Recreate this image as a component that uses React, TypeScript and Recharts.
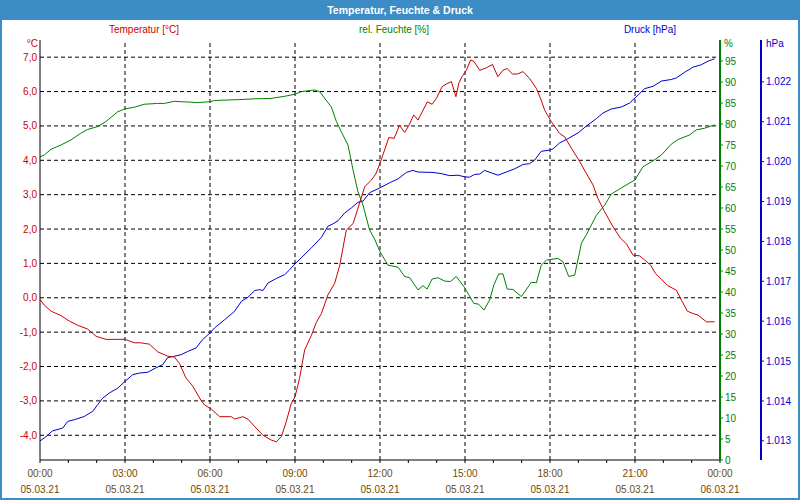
import React from 'react';
import { ComposedChart, Line, XAxis, YAxis, ReferenceLine } from 'recharts';

const FONT = '"Liberation Sans", Arial, sans-serif';

// x axis (hours since 05.03.21 00:00)
const tickHours = [0, 1, 2, 3, 4, 5, 6, 7, 8, 9, 10, 11, 12, 13, 14, 15, 16, 17, 18, 19, 20, 21, 22, 23, 24];
const labelHours = [0, 3, 6, 9, 12, 15, 18, 21, 24];
const labelTimes = ['00:00', '03:00', '06:00', '09:00', '12:00', '15:00', '18:00', '21:00', '00:00'];
const labelDates = ['05.03.21', '05.03.21', '05.03.21', '05.03.21', '05.03.21', '05.03.21', '05.03.21', '05.03.21', '06.03.21'];
const gridHours = [3, 6, 9, 12, 15, 18, 21];

// y axes
const tempTicks = [-4, -3, -2, -1, 0, 1, 2, 3, 4, 5, 6, 7];
const humTicks = [0, 5, 10, 15, 20, 25, 30, 35, 40, 45, 50, 55, 60, 65, 70, 75, 80, 85, 90, 95];
const presTicks = [1013, 1014, 1015, 1016, 1017, 1018, 1019, 1020, 1021, 1022];

// series: [hour, value]
const temperature: [number, number][] = [
  [0, -0.05], [0.15, -0.21], [0.39, -0.39], [0.74, -0.52], [1.04, -0.68], [1.33, -0.8], [1.68, -0.91], [1.98, -1.12],
  [2.33, -1.21], [2.62, -1.21], [3.0, -1.21], [3.33, -1.31], [3.56, -1.31], [3.86, -1.35], [4.15, -1.57], [4.51, -1.7],
  [4.74, -1.72], [4.92, -1.91], [5.15, -2.33], [5.39, -2.57], [5.68, -2.98], [5.81, -3.12], [6.05, -3.24], [6.34, -3.46],
  [6.75, -3.46], [6.87, -3.53], [7.16, -3.46], [7.34, -3.53], [7.58, -3.75], [7.87, -4.0], [8.16, -4.14], [8.34, -4.19],
  [8.52, -4.04], [8.69, -3.61], [8.87, -3.07], [9.0, -2.88], [9.16, -2.35], [9.34, -1.52], [9.58, -1.09], [9.75, -0.72],
  [9.93, -0.46], [10.16, 0.08], [10.4, 0.42], [10.58, 0.95], [10.81, 1.97], [11.05, 2.16], [11.22, 2.6], [11.46, 3.23],
  [11.69, 3.42], [11.85, 3.6], [12.0, 3.91], [12.31, 4.66], [12.5, 4.64], [12.69, 5.02], [12.87, 4.81], [13.01, 5.0],
  [13.19, 5.32], [13.34, 5.17], [13.67, 5.7], [13.84, 5.63], [13.99, 5.8], [14.19, 6.14], [14.34, 6.22], [14.52, 6.29],
  [14.68, 5.85], [14.78, 6.24], [14.89, 6.43], [15.05, 6.62], [15.2, 6.92], [15.32, 6.87], [15.52, 6.62], [15.75, 6.69],
  [15.97, 6.79], [16.16, 6.43], [16.34, 6.62], [16.49, 6.67], [16.67, 6.51], [16.85, 6.51], [17.05, 6.58], [17.28, 6.38],
  [17.52, 6.09], [17.69, 5.75], [17.81, 5.46], [18.05, 5.12], [18.34, 4.78], [18.52, 4.68], [18.75, 4.36], [19.05, 3.96],
  [19.28, 3.62], [19.52, 3.28], [19.69, 2.89], [19.93, 2.5], [20.22, 2.07], [20.49, 1.73], [20.69, 1.58], [20.93, 1.24],
  [21.16, 1.22], [21.34, 1.1], [21.55, 0.95], [21.72, 0.71], [21.93, 0.54], [22.16, 0.35], [22.46, 0.22], [22.64, -0.07],
  [22.85, -0.39], [23.05, -0.46], [23.22, -0.5], [23.52, -0.7], [23.81, -0.7],
];

const humidity: [number, number][] = [
  [0, 72.2], [0.15, 72.6], [0.39, 74.0], [0.74, 75.0], [1.09, 76.2], [1.44, 77.8], [1.68, 78.7], [2.04, 79.4],
  [2.33, 80.6], [2.74, 82.9], [3.0, 83.6], [3.33, 84.0], [3.68, 84.7], [4.15, 84.9], [4.39, 84.9], [4.74, 85.4],
  [4.98, 85.3], [5.33, 85.2], [5.56, 85.1], [5.99, 85.3], [6.16, 85.6], [7.0, 85.8], [7.58, 86.0], [8.16, 86.1],
  [8.64, 86.6], [9.0, 87.1], [9.22, 87.7], [9.69, 88.1], [9.87, 87.7], [10.05, 86.1], [10.28, 84.1], [10.46, 80.6],
  [10.63, 78.2], [10.87, 75.0], [11.05, 69.0], [11.22, 63.9], [11.4, 60.7], [11.63, 54.8], [11.81, 52.6], [12.0, 49.6],
  [12.28, 46.4], [12.64, 45.9], [12.87, 43.7], [13.05, 43.4], [13.34, 40.5], [13.52, 41.5], [13.66, 40.7], [13.84, 43.1],
  [14.05, 43.4], [14.28, 42.6], [14.49, 42.5], [14.69, 43.7], [14.99, 41.0], [15.31, 37.3], [15.48, 37.1], [15.67, 35.7],
  [15.87, 38.1], [16.02, 41.7], [16.19, 44.3], [16.34, 44.3], [16.49, 40.7], [16.69, 40.6], [16.99, 38.9], [17.34, 42.3],
  [17.52, 42.2], [17.69, 46.4], [17.88, 47.6], [18.28, 48.0], [18.46, 47.2], [18.66, 43.7], [18.87, 44.0], [19.11, 51.6],
  [19.28, 53.6], [19.64, 58.3], [19.93, 60.7], [20.16, 63.3], [20.52, 64.8], [21.0, 66.7], [21.28, 69.8], [21.58, 71.0],
  [21.93, 72.6], [22.28, 75.2], [22.52, 76.3], [22.93, 77.4], [23.16, 78.6], [23.46, 79.0], [23.81, 79.8],
];

const pressure: [number, number][] = [
  [0, 1013.0], [0.15, 1013.07], [0.44, 1013.25], [0.8, 1013.32], [0.98, 1013.49], [1.21, 1013.53], [1.56, 1013.61],
  [1.86, 1013.74], [2.04, 1013.91], [2.21, 1014.07], [2.45, 1014.2], [2.74, 1014.32], [3.0, 1014.49], [3.27, 1014.66],
  [3.51, 1014.7], [3.8, 1014.72], [4.09, 1014.83], [4.33, 1014.91], [4.51, 1015.09], [4.74, 1015.12], [4.98, 1015.16],
  [5.21, 1015.24], [5.51, 1015.33], [5.74, 1015.54], [5.99, 1015.7], [6.16, 1015.83], [6.52, 1016.04], [6.87, 1016.25],
  [7.11, 1016.5], [7.34, 1016.6], [7.58, 1016.77], [7.75, 1016.79], [7.87, 1016.77], [8.05, 1016.96], [8.34, 1017.07],
  [8.64, 1017.17], [8.81, 1017.29], [9.0, 1017.44], [9.28, 1017.63], [9.58, 1017.84], [9.93, 1018.1], [10.16, 1018.38],
  [10.34, 1018.44], [10.52, 1018.52], [10.75, 1018.71], [10.99, 1018.84], [11.22, 1018.98], [11.4, 1019.01],
  [11.63, 1019.22], [11.99, 1019.34], [12.34, 1019.47], [12.64, 1019.57], [12.93, 1019.73], [13.16, 1019.78],
  [13.34, 1019.74], [13.87, 1019.73], [14.16, 1019.7], [14.46, 1019.65], [14.75, 1019.66], [14.99, 1019.62],
  [15.16, 1019.61], [15.34, 1019.68], [15.52, 1019.69], [15.69, 1019.78], [15.93, 1019.72], [16.16, 1019.66],
  [16.46, 1019.74], [16.75, 1019.82], [17.05, 1019.93], [17.28, 1019.95], [17.46, 1020.04], [17.69, 1020.26],
  [17.99, 1020.29], [18.11, 1020.32], [18.34, 1020.47], [18.64, 1020.58], [18.99, 1020.72], [19.28, 1020.89],
  [19.64, 1021.08], [19.87, 1021.22], [20.16, 1021.32], [20.52, 1021.37], [20.81, 1021.47], [21.11, 1021.67],
  [21.34, 1021.83], [21.64, 1021.89], [21.93, 1022.02], [22.28, 1022.06], [22.46, 1022.1], [22.75, 1022.24],
  [23.05, 1022.37], [23.34, 1022.43], [23.58, 1022.52], [23.81, 1022.58],
];

const RED = '#cc0000';
const GREEN = '#008000';
const BLUE = '#0000cc';
const FRAME = '#3c8dc6';
const XLABEL = '#6e4a08';

const toPoints = (s: [number, number][]) => s.map(([h, v]) => ({ h, v }));

const XTick = (props: any) => {
  const { x, y, payload } = props;
  const idx = labelHours.indexOf(payload.value);
  if (idx < 0) return <g />;
  return (
    <g>
      <text x={x} y={y + 12} textAnchor="middle" fill={XLABEL} fontSize={10} fontFamily={FONT}>
        {labelTimes[idx]}
      </text>
      <text x={x} y={y + 28} textAnchor="middle" fill={XLABEL} fontSize={10} fontFamily={FONT}>
        {labelDates[idx]}
      </text>
    </g>
  );
};

const abs = (extra: React.CSSProperties): React.CSSProperties => ({ position: 'absolute', ...extra });

export default function App() {
  return (
    <div style={{ position: 'relative', width: 800, height: 500, background: '#fff', overflow: 'hidden', fontFamily: FONT }}>
      <style>{'body{margin:0}'}</style>
      <div style={abs({ left: 0, top: 0 })}>
        <ComposedChart width={800} height={500} margin={{ top: 40, right: 0, bottom: 0, left: 0 }}>
          <XAxis
            dataKey="h"
            type="number"
            domain={[0, 24]}
            ticks={tickHours}
            interval={0}
            height={40}
            tickSize={3}
            tickMargin={2}
            axisLine={{ stroke: '#000' }}
            tickLine={{ stroke: '#000' }}
            tick={<XTick />}
            allowDataOverflow
          />
          <XAxis
            xAxisId="top"
            orientation="top"
            type="number"
            domain={[0, 24]}
            height={0}
            tick={false}
            tickLine={false}
            axisLine={{ stroke: '#000' }}
          />
          <YAxis
            yAxisId="t"
            orientation="left"
            width={40}
            type="number"
            domain={[-4.72, 7.5]}
            ticks={tempTicks}
            interval={0}
            tickSize={0}
            tickMargin={3}
            tickLine={false}
            axisLine={{ stroke: '#000' }}
            tick={{ fill: RED, fontSize: 10, fontFamily: FONT }}
            tickFormatter={(v: number) => v.toFixed(1).replace('.', ',')}
            allowDataOverflow
          />
          <YAxis
            yAxisId="h"
            orientation="right"
            width={41}
            type="number"
            domain={[0, 100]}
            ticks={humTicks}
            interval={0}
            tickSize={3}
            tickMargin={2}
            tickLine={{ stroke: GREEN }}
            axisLine={{ stroke: GREEN, strokeWidth: 2 }}
            tick={{ fill: GREEN, fontSize: 10, fontFamily: FONT }}
            allowDataOverflow
          />
          <YAxis
            yAxisId="p"
            orientation="right"
            width={39}
            type="number"
            domain={[1012.52, 1023.05]}
            ticks={presTicks}
            interval={0}
            tickSize={3}
            tickMargin={2}
            tickLine={{ stroke: BLUE }}
            axisLine={{ stroke: BLUE, strokeWidth: 2 }}
            tick={{ fill: BLUE, fontSize: 10, fontFamily: FONT }}
            tickFormatter={(v: number) => (v / 1000).toFixed(3)}
            allowDataOverflow
          />
          {tempTicks.map((t) => (
            <ReferenceLine key={'ht' + t} y={t} yAxisId="t" stroke="#000" strokeDasharray="4 3" />
          ))}
          {gridHours.map((h) => (
            <ReferenceLine key={'vh' + h} x={h} yAxisId="t" stroke="#000" strokeDasharray="4 3" />
          ))}
          <Line data={toPoints(pressure)} dataKey="v" yAxisId="p" type="linear" stroke={BLUE} strokeWidth={1} dot={false} isAnimationActive={false} />
          <Line data={toPoints(humidity)} dataKey="v" yAxisId="h" type="linear" stroke={GREEN} strokeWidth={1} dot={false} isAnimationActive={false} />
          <Line data={toPoints(temperature)} dataKey="v" yAxisId="t" type="linear" stroke={RED} strokeWidth={1} dot={false} isAnimationActive={false} />
        </ComposedChart>
      </div>

      {/* title bar */}
      <div
        style={abs({
          left: 0, top: 0, width: 800, height: 20, background: FRAME, color: '#fff', fontWeight: 'bold',
          fontSize: 10.5, lineHeight: '20px', textAlign: 'center',
        })}
      >
        Temperatur, Feuchte &amp; Druck
      </div>

      {/* series captions */}
      <div style={abs({ left: 84, top: 24, width: 120, textAlign: 'center', fontSize: 10, lineHeight: '12px', color: RED })}>Temperatur [°C]</div>
      <div style={abs({ left: 334, top: 24, width: 120, textAlign: 'center', fontSize: 10, lineHeight: '12px', color: GREEN })}>rel. Feuchte [%]</div>
      <div style={abs({ left: 590, top: 24, width: 120, textAlign: 'center', fontSize: 10, lineHeight: '12px', color: BLUE })}>Druck [hPa]</div>

      {/* units */}
      <div style={abs({ left: 0, top: 38, width: 38, textAlign: 'right', fontSize: 10, lineHeight: '12px', color: RED })}>°C</div>
      <div style={abs({ left: 724, top: 38, fontSize: 10, lineHeight: '12px', color: GREEN })}>%</div>
      <div style={abs({ left: 766, top: 38, fontSize: 10, lineHeight: '12px', color: BLUE })}>hPa</div>

      {/* frame */}
      <div style={abs({ left: 0, top: 0, width: 800, height: 500, boxSizing: 'border-box', border: `2px solid ${FRAME}`, pointerEvents: 'none' })} />
    </div>
  );
}
